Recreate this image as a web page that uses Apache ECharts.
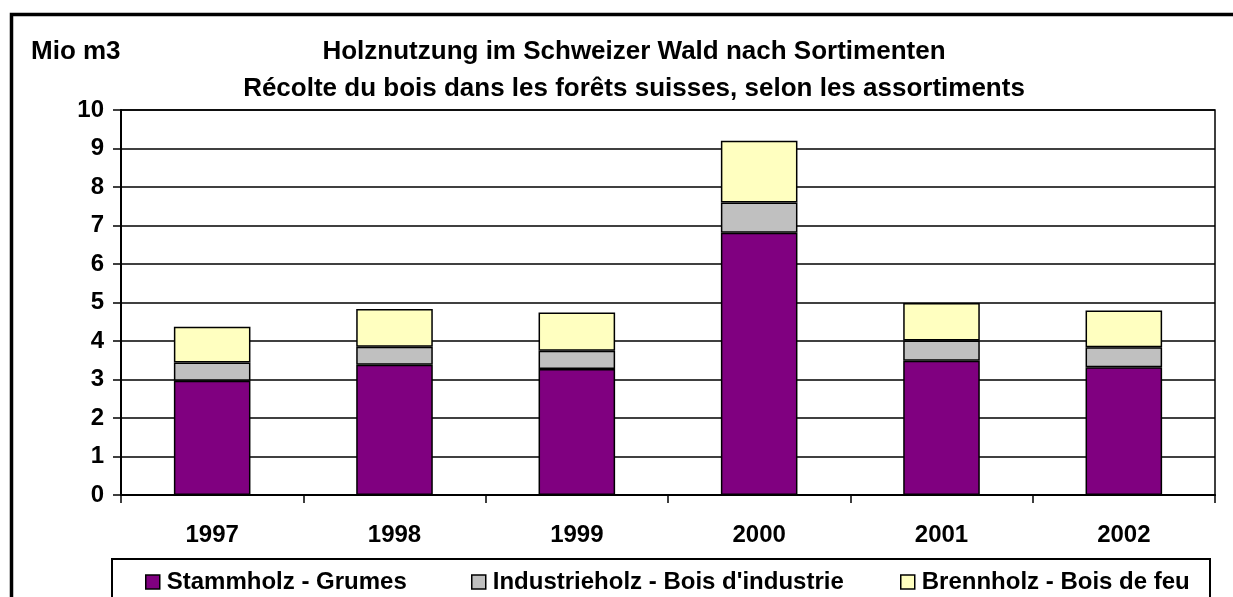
<!DOCTYPE html>
<html>
<head>
<meta charset="utf-8">
<script src="https://cdn.jsdelivr.net/npm/echarts@6/dist/echarts.min.js"></script>
<style>
html,body{margin:0;padding:0;background:#fff;}
#chart{width:1233px;height:597px;}
</style>
</head>
<body>
<div id="chart"></div>
<script>
var categories = ['1997','1998','1999','2000','2001','2002'];
var stammholz = [2.97, 3.38, 3.27, 6.81, 3.49, 3.32];
var industrieholz = [0.47, 0.47, 0.48, 0.79, 0.52, 0.52];
var brennholz = [0.93, 0.98, 0.99, 1.60, 0.98, 0.95];
var seriesNames = ['Stammholz - Grumes', "Industrieholz - Bois d'industrie", 'Brennholz - Bois de feu'];
var unitLabel = 'Mio m3';
var title1 = 'Holznutzung im Schweizer Wald nach Sortimenten';
var title2 = 'Récolte du bois dans les forêts suisses, selon les assortiments';

var FONT = '"Liberation Sans", Arial, sans-serif';
var colors = ['#800080', '#C0C0C0', '#FFFFC0'];

var chart = echarts.init(document.getElementById('chart'));
function bar(name, data, color) {
  return {
    name: name, type: 'bar', stack: 'total', data: data, barWidth: '42%',
    itemStyle: { color: color, borderColor: '#000', borderWidth: 1.5 },
    emphasis: { disabled: true }, animation: false
  };
}
function legend(name, left) {
  return {
    data: [name], left: left, top: 565, itemWidth: 14, itemHeight: 14, itemGap: 0,
    icon: 'rect',
    itemStyle: { borderColor: '#000', borderWidth: 1.5 },
    textStyle: { fontFamily: FONT, fontWeight: 'bold', fontSize: 24, lineHeight: 24, color: '#000', padding: [0,0,0,2] },
    selectedMode: false
  };
}
var tStyle = { fontFamily: FONT, fontWeight: 'bold', fontSize: 26, lineHeight: 26, color: '#000' };
chart.setOption({
  animation: false,
  backgroundColor: '#fff',
  textStyle: { fontFamily: FONT },
  title: [
    { text: unitLabel, left: 31, top: 39, padding: 0, textStyle: tStyle },
    { text: title1, left: 634, top: 39, padding: 0, textAlign: 'center', textStyle: tStyle },
    { text: title2, left: 634, top: 76, padding: 0, textAlign: 'center', textStyle: tStyle }
  ],
  legend: [legend(seriesNames[0], 140), legend(seriesNames[1], 466), legend(seriesNames[2], 895)],
  grid: { left: 121, right: 18, top: 110, bottom: 102, show: true, borderColor: '#000', borderWidth: 1.5 },
  xAxis: {
    type: 'category', data: categories,
    axisLine: { lineStyle: { color: '#000', width: 2 } },
    axisTick: { show: true, alignWithLabel: false, length: 8, lineStyle: { color: '#000', width: 1.5 } },
    axisLabel: { margin: 28, color: '#000', fontFamily: FONT, fontWeight: 'bold', fontSize: 24, lineHeight: 24 }
  },
  yAxis: {
    type: 'value', min: 0, max: 10, interval: 1,
    axisLine: { show: true, lineStyle: { color: '#000', width: 2 } },
    axisTick: { show: true, length: 8, lineStyle: { color: '#000', width: 1.5 } },
    axisLabel: { margin: 17, color: '#000', fontFamily: FONT, fontWeight: 'bold', fontSize: 24 },
    splitLine: { show: true, lineStyle: { color: '#000', width: 1.5 } }
  },
  series: [
    bar(seriesNames[0], stammholz, colors[0]),
    bar(seriesNames[1], industrieholz, colors[1]),
    bar(seriesNames[2], brennholz, colors[2])
  ],
  graphic: [
    { type: 'polyline', shape: { points: [[11.5, 600], [11.5, 14.5], [1240, 14.5]] }, style: { stroke: '#000', lineWidth: 3.5, fill: null }, silent: true },
    { type: 'rect', shape: { x: 112, y: 559, width: 1098, height: 60 }, style: { stroke: '#000', lineWidth: 2, fill: null }, silent: true, z: -1 }
  ]
});
</script>
</body>
</html>
